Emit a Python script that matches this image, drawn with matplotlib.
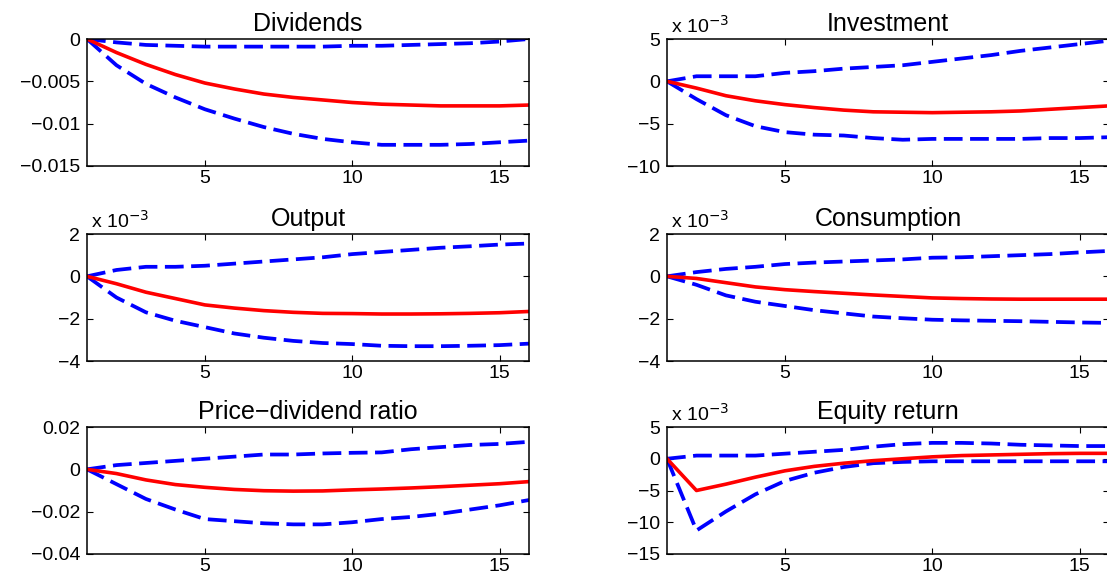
import numpy as np
import matplotlib
matplotlib.use("Agg")
import matplotlib.pyplot as plt
from matplotlib.ticker import FuncFormatter

plt.rcParams['font.family'] = ['Liberation Sans', 'DejaVu Sans']

# horizon
periods = np.arange(1, 17)

# impulse responses: median (red) and bands (blue dashed)
div_mid = [0, -0.0016, -0.0030, -0.0042, -0.0052, -0.0059, -0.0065, -0.0069,
           -0.0072, -0.0075, -0.0077, -0.0078, -0.0079, -0.0079, -0.0079, -0.0078]
div_hi = [0, -0.0004, -0.0007, -0.0008, -0.0009, -0.0009, -0.0009, -0.0009,
          -0.0009, -0.0008, -0.0008, -0.0007, -0.0006, -0.0005, -0.0003, 0.0]
div_lo = [0, -0.0031, -0.0053, -0.0069, -0.0083, -0.0094, -0.0104, -0.0112,
          -0.0118, -0.0122, -0.0125, -0.0125, -0.0125, -0.0124, -0.0122, -0.0120]

# x 10^-3
inv_mid = [0, -0.8, -1.7, -2.3, -2.75, -3.1, -3.4, -3.6, -3.65, -3.7, -3.65,
           -3.6, -3.5, -3.3, -3.1, -2.9]
inv_hi = [0, 0.6, 0.6, 0.6, 1.0, 1.2, 1.5, 1.7, 1.9, 2.3, 2.7, 3.1, 3.6, 4.0, 4.4, 4.8]
inv_lo = [0, -2.1, -4.0, -5.3, -6.0, -6.3, -6.4, -6.7, -6.9, -6.8, -6.8, -6.8,
          -6.8, -6.7, -6.7, -6.6]

out_mid = [0, -0.35, -0.75, -1.05, -1.35, -1.5, -1.62, -1.7, -1.75, -1.76, -1.78,
           -1.78, -1.77, -1.75, -1.72, -1.66]
out_hi = [0, 0.3, 0.45, 0.45, 0.5, 0.6, 0.7, 0.8, 0.9, 1.05, 1.15, 1.25, 1.35,
          1.42, 1.5, 1.55]
out_lo = [0, -1.0, -1.7, -2.1, -2.4, -2.7, -2.9, -3.05, -3.15, -3.2, -3.28, -3.3,
          -3.3, -3.28, -3.25, -3.18]

con_mid = [0, -0.1, -0.3, -0.5, -0.63, -0.72, -0.8, -0.88, -0.95, -1.02, -1.05,
           -1.07, -1.08, -1.08, -1.08, -1.08]
con_hi = [0, 0.2, 0.35, 0.45, 0.58, 0.65, 0.7, 0.75, 0.8, 0.88, 0.9, 0.95, 1.0,
          1.05, 1.13, 1.2]
con_lo = [0, -0.4, -0.9, -1.2, -1.4, -1.6, -1.75, -1.9, -1.98, -2.05, -2.08,
          -2.1, -2.12, -2.15, -2.18, -2.2]

pd_mid = [0, -0.002, -0.005, -0.0072, -0.0085, -0.0095, -0.0101, -0.0103,
          -0.0102, -0.0097, -0.0093, -0.0088, -0.0082, -0.0075, -0.0068, -0.0058]
pd_hi = [0, 0.002, 0.003, 0.004, 0.005, 0.006, 0.007, 0.007, 0.0075, 0.0078,
         0.008, 0.0095, 0.0105, 0.0115, 0.012, 0.013]
pd_lo = [0, -0.007, -0.014, -0.019, -0.0235, -0.0245, -0.0255, -0.026, -0.026,
         -0.025, -0.0235, -0.0225, -0.021, -0.019, -0.017, -0.0145]

eq_mid = [0, -5.0, -4.0, -2.9, -1.9, -1.2, -0.7, -0.3, 0.0, 0.3, 0.5, 0.6, 0.7,
          0.8, 0.85, 0.85]
eq_hi = [0, 0.5, 0.5, 0.5, 0.8, 1.1, 1.4, 1.9, 2.3, 2.5, 2.5, 2.4, 2.2, 2.1, 2.0, 2.0]
eq_lo = [0, -11.3, -8.3, -5.6, -3.5, -2.2, -1.3, -0.7, -0.5, -0.4, -0.4, -0.4,
         -0.4, -0.4, -0.4, -0.4]

panels = [
    ("Dividends", div_mid, div_hi, div_lo, (-0.015, 0), [-0.015, -0.01, -0.005, 0], False),
    ("Investment", inv_mid, inv_hi, inv_lo, (-10, 5), [-10, -5, 0, 5], True),
    ("Output", out_mid, out_hi, out_lo, (-4, 2), [-4, -2, 0, 2], True),
    ("Consumption", con_mid, con_hi, con_lo, (-4, 2), [-4, -2, 0, 2], True),
    ("Price\u2212dividend ratio", pd_mid, pd_hi, pd_lo, (-0.04, 0.02), [-0.04, -0.02, 0, 0.02], False),
    ("Equity return", eq_mid, eq_hi, eq_lo, (-15, 5), [-15, -10, -5, 0, 5], True),
]

fig = plt.figure(figsize=(11.07, 5.73), dpi=100)

lefts = [87 / 1107, 667 / 1107]
width = 442 / 1107
bottoms = [1 - 166 / 573, 1 - 361 / 573, 1 - 554 / 573]
height = 127 / 573

fmt = FuncFormatter(lambda v, p: ('%g' % v).replace('-', '\u2212'))

for i, (title, mid, hi, lo, ylim, yt, scaled) in enumerate(panels):
    ax = fig.add_axes([lefts[i % 2], bottoms[i // 2], width, height])
    ax.plot(periods, hi, color='blue', lw=2.7, ls='--', dashes=(5, 2))
    ax.plot(periods, lo, color='blue', lw=2.7, ls='--', dashes=(5, 2))
    ax.plot(periods, mid, color='red', lw=2.6)
    ax.set_xlim(1, 16)
    ax.set_ylim(*ylim)
    ax.set_xticks([5, 10, 15])
    ax.set_yticks(yt)
    ax.yaxis.set_major_formatter(fmt)
    ax.tick_params(direction='in', top=True, right=True, labelsize=14,
                   length=4, width=0.8)
    ax.tick_params(axis='x', pad=3)
    ax.tick_params(axis='y', pad=5)
    for s in ax.spines.values():
        s.set_linewidth(1.1)
    ax.set_title(title, fontsize=18, pad=6)
    if scaled:
        ax.text(0.01, 1.015, 'x 10$^{\u22123}$', transform=ax.transAxes,
                fontsize=14, ha='left', va='bottom')

fig.savefig('out.png', dpi=100)
